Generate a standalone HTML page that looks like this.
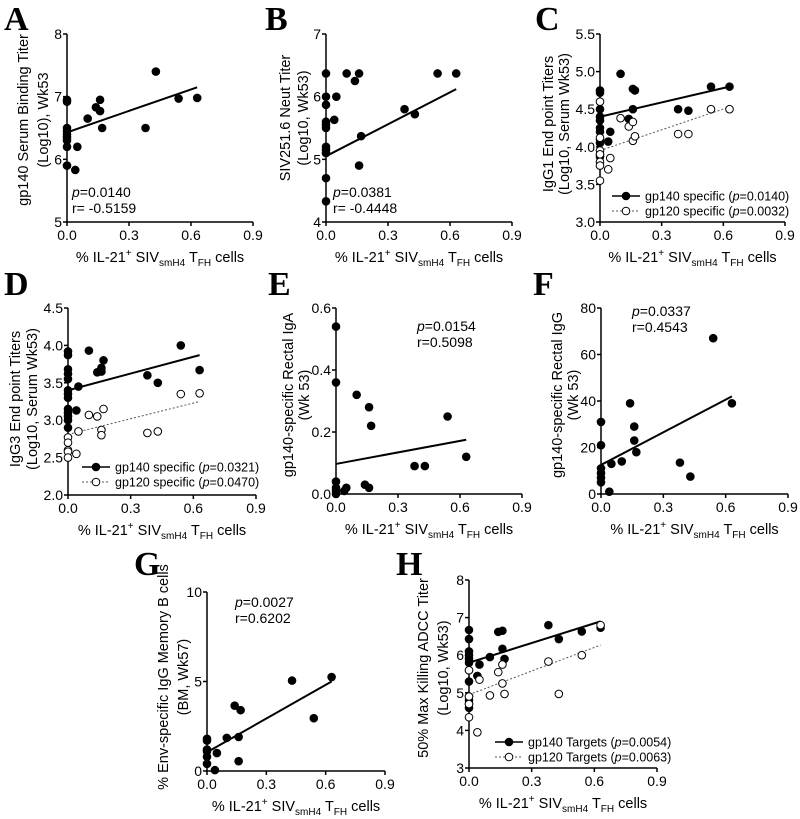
<!DOCTYPE html>
<html><head><meta charset="utf-8"><style>
html,body{margin:0;padding:0;background:#fff}
svg{display:block;font-family:"Liberation Sans",Arial,sans-serif}
</style></head><body>
<svg id="fig" width="800" height="819" viewBox="0 0 800 819" xmlns="http://www.w3.org/2000/svg"></svg>
<script>
// ---- data ----
const xTicks=[0,0.3,0.6,0.9];
const xTickLabels=["0.0","0.3","0.6","0.9"];
const aX=[0,0,0,0,0,0,0,0,0,0.04,0.05,0.1,0.14,0.16,0.16,0.17,0.38,0.43,0.54,0.63];
const aY=[6.95,6.92,6.5,6.45,6.4,6.35,6.3,6.2,5.9,5.83,6.2,6.65,6.83,6.95,6.77,6.5,6.5,7.4,6.97,6.98];
const aFit=[6.43,7.15];
const bX=[0,0,0,0,0,0,0,0,0,0,0,0.04,0.05,0.1,0.14,0.16,0.16,0.17,0.38,0.43,0.54,0.63];
const bY=[6.37,6.0,5.87,5.6,5.55,5.5,5.2,5.15,5.1,4.7,4.33,5.63,6.0,6.37,6.25,6.37,4.9,5.37,5.8,5.72,6.37,6.37];
const bFit=[5.05,6.12];
const cX1=[0,0,0,0,0,0,0,0,0,0,0,0.04,0.05,0.1,0.14,0.16,0.17,0.16,0.38,0.43,0.54,0.63];
const cY1=[4.75,4.72,4.5,4.4,4.35,4.25,4.2,4.1,4.05,3.9,3.87,4.07,4.2,4.97,4.37,4.77,4.75,4.5,4.5,4.48,4.8,4.8];
const cX2=[0,0,0,0,0,0,0,0.04,0.05,0.1,0.14,0.16,0.16,0.17,0.38,0.43,0.54,0.63];
const cY2=[4.6,4.12,3.95,3.9,3.8,3.75,3.55,3.7,3.85,4.38,4.27,4.33,4.08,4.14,4.17,4.17,4.5,4.5];
const cFit1=[4.4,4.8], cFit2=[3.95,4.53];
const dX1=[0,0,0,0,0,0,0,0,0,0,0,0,0,0.04,0.05,0.1,0.14,0.16,0.16,0.17,0.38,0.43,0.54,0.63];
const dY1=[3.92,3.87,3.68,3.62,3.55,3.4,3.35,3.3,3.15,3.1,3.05,3.0,2.9,3.13,3.45,3.93,3.64,3.7,3.65,3.8,3.6,3.5,4.0,3.67];
const dX2=[0,0,0,0,0,0.04,0.05,0.1,0.14,0.16,0.16,0.17,0.38,0.43,0.54,0.63];
const dY2=[2.77,2.7,2.6,2.58,2.5,2.55,2.85,3.07,3.05,2.87,2.8,3.15,2.83,2.85,3.35,3.36];
const dFit1=[3.4,3.87], dFit2=[2.81,3.25];
const eX=[0,0,0,0,0,0,0.04,0.05,0.1,0.14,0.16,0.16,0.17,0.38,0.43,0.54,0.63];
const eY=[0.54,0.36,0.04,0.02,0.01,0,0.01,0.02,0.32,0.03,0.28,0.02,0.22,0.09,0.09,0.25,0.12];
const eFit=[0.097,0.175];
const fX=[0,0,0,0,0,0,0.04,0.05,0.1,0.14,0.16,0.16,0.17,0.38,0.43,0.54,0.63];
const fY=[31,21,11,9,7,5,1,13,14,39,29,23,18,13.5,7.5,67,39];
const fFit=[12.5,42];
const gX=[0,0,0,0,0,0,0.04,0.05,0.1,0.14,0.16,0.16,0.17,0.43,0.54,0.63];
const gY=[1.8,1.7,1.2,1.1,0.8,0.4,0.05,1.0,1.85,3.65,1.9,0.55,3.4,5.05,2.95,5.25];
const gFit=[1.05,5.0];
const hX1=[0,0,0,0,0,0,0,0,0,0,0,0,0.04,0.05,0.1,0.14,0.16,0.16,0.17,0.38,0.43,0.54,0.63];
const hY1=[6.67,6.43,6.1,6.0,5.9,5.8,5.6,5.3,4.9,4.8,4.7,4.6,5.45,5.75,5.95,6.62,6.65,6.17,5.9,6.8,6.43,6.63,6.73];
const hX2=[0,0,0,0,0.04,0.05,0.1,0.14,0.16,0.16,0.17,0.38,0.43,0.54,0.63];
const hY2=[5.6,4.9,4.7,4.35,3.95,5.35,4.93,5.55,5.75,5.25,4.97,5.83,4.97,6.0,6.8];
const hFit1=[5.8,6.9], hFit2=[4.95,6.27];
const fitX=[0,0.63];

const NS="http://www.w3.org/2000/svg";
const svg=document.getElementById('fig');
function mk(tag,attrs,parent){const e=document.createElementNS(NS,tag);for(const k in attrs)e.setAttribute(k,attrs[k]);(parent||svg).appendChild(e);return e;}

function panel(c){
  const g=mk('g',{});
  
  
  const sx=v=>c.x0+(v-0)/(0.9-0)*(c.x1-c.x0);
  const sy=v=>c.y1-(v-c.ymin)/(c.ymax-c.ymin)*(c.y1-c.y0);
  const L=mk('text',{x:c.lx,y:c.ly,'font-family':'"Liberation Serif",serif','font-weight':'bold','font-size':34},g);L.textContent=c.id;
  
  
  const ax=mk('path',{d:`M${c.x0},${c.y0}V${c.y1}H${c.x1}`,stroke:'#000','stroke-width':1.5,fill:'none'},g);
  
  
  c.yt.forEach((v,i)=>{
    const y=sy(v);
    mk('line',{x1:c.x0-4,x2:c.x0,y1:y,y2:y,stroke:'#000','stroke-width':1.5},g);
    const t=mk('text',{x:c.x0-5,y:y+5,'text-anchor':'end','font-size':14},g);t.textContent=c.ytl[i];
    
    
  });
  xTicks.forEach((v,i)=>{
    const x=sx(v);
    mk('line',{x1:x,x2:x,y1:c.y1,y2:c.y1+4,stroke:'#000','stroke-width':1.5},g);
    const t=mk('text',{x:x,y:c.y1+18,'text-anchor':'middle','font-size':14},g);t.textContent=xTickLabels[i];
    
    
  });
  const xt=mk('text',{x:(c.x0+c.x1)/2,y:c.y1+40,'text-anchor':'middle','font-size':14.5},g);
  
  
  xt.innerHTML='% IL-21<tspan font-size="10" dy="-6">+</tspan><tspan dy="6"> SIV</tspan><tspan font-size="10" dy="4">smH4</tspan><tspan dy="-4"> T</tspan><tspan font-size="10" dy="4">FH</tspan><tspan dy="-4"> cells</tspan>';
  const yc=c.yc||((c.y0+c.y1)/2-6);
  c.ytitle.forEach((s,i)=>{
    const x=c.x0-c.yo[i];
    const t=mk('text',{x:x,y:yc,'text-anchor':'middle','font-size':14.5,transform:`rotate(-90 ${x} ${yc})`,dy:5},g);
    t.textContent=s;
    
    
  });
  c.series.forEach((s,si)=>{
    const fl=mk('line',{x1:sx(fitX[0]),y1:sy(s.fit[0]),x2:sx(fitX[1]),y2:sy(s.fit[1]),stroke:s.open?'#555':'#000','stroke-width':s.open?1:2,'stroke-dasharray':s.open?'2,2':'none'},g);
    
    
    s.x.forEach((xv,i)=>{
      const p=mk('circle',{cx:sx(xv),cy:sy(s.y[i]),r:3.8,fill:s.open?'#fff':'#000',stroke:'#000','stroke-width':1},g);
      
      
    });
  });
  if(c.stats){
    const t=mk('text',{x:c.stats[0],y:c.stats[1],'font-size':14},g);
    t.innerHTML='<tspan font-style="italic">p</tspan>='+c.stats[2];
    
    
    const r=mk('text',{x:c.stats[0],y:c.stats[1]+16,'font-size':14},g);r.textContent=c.stats[3];
    
    
  }
  if(c.legend){
    c.legend.items.forEach((it,i)=>{
      const y=c.legend.y+i*15, x=c.legend.x;
      const lg=mk('g',{},g);
      
      
      mk('line',{x1:x,x2:x+28,y1:y,y2:y,stroke:i?'#555':'#000','stroke-width':i?1:1.5,'stroke-dasharray':i?'2,2':'none'},lg);
      mk('circle',{cx:x+14,cy:y,r:3.8,fill:i?'#fff':'#000',stroke:'#000'},lg);
      const t=mk('text',{x:x+33,y:y+4.5,'font-size':12.5},lg);
      t.innerHTML=it[0]+' (<tspan font-style="italic">p</tspan>='+it[1]+')';
    });
  }
}

panel({id:'A',lx:4,ly:30,x0:67,x1:253,y0:34,y1:222,ymin:5,ymax:8,yt:[5,6,7,8],ytl:["5","6","7","8"],
  ytitle:["gp140 Serum Binding Titer","(Log10), Wk53"],yo:[44,24],yc:120,
  series:[{x:aX,y:aY,fit:aFit}],stats:[72,197,"0.0140","r= -0.5159"]});
panel({id:'B',lx:265,ly:30,x0:326,x1:512,y0:34,y1:222,ymin:4,ymax:7,yt:[4,5,6,7],ytl:["4","5","6","7"],
  ytitle:["SIV251.6 Neut Titer","(Log10, Wk53)"],yo:[41,23],yc:118,
  series:[{x:bX,y:bY,fit:bFit}],stats:[333,197,"0.0381","r= -0.4448"]});
panel({id:'C',lx:535,ly:30,x0:600,x1:785,y0:34,y1:222,ymin:3,ymax:5.5,yt:[3,3.5,4,4.5,5,5.5],ytl:["3.0","3.5","4.0","4.5","5.0","5.5"],
  ytitle:["IgG1 End point Titers","(Log10, Serum Wk53)"],yo:[52,36],yc:124,
  series:[{x:cX1,y:cY1,fit:cFit1},{x:cX2,y:cY2,fit:cFit2,open:true}],
  legend:{x:612,y:196,items:[["gp140 specific","0.0140"],["gp120 specific","0.0032"]]}});
panel({id:'D',lx:4,ly:295,x0:68,x1:256,y0:308,y1:495,ymin:2,ymax:4.5,yt:[2,2.5,3,3.5,4,4.5],ytl:["2.0","2.5","3.0","3.5","4.0","4.5"],
  ytitle:["IgG3 End point Titers","(Log10, Serum Wk53)"],yo:[53,36],yc:399,
  series:[{x:dX1,y:dY1,fit:dFit1},{x:dX2,y:dY2,fit:dFit2,open:true}],
  legend:{x:82,y:467,items:[["gp140 specific","0.0321"],["gp120 specific","0.0470"]]}});
panel({id:'E',lx:268,ly:295,x0:336,x1:522,y0:308,y1:494,ymin:0,ymax:0.6,yt:[0,0.2,0.4,0.6],ytl:["0.0","0.2","0.4","0.6"],
  ytitle:["gp140-specific Rectal IgA","(Wk 53)"],yo:[48,32],yc:395,
  series:[{x:eX,y:eY,fit:eFit}],stats:[417,331,"0.0154","r=0.5098"]});
panel({id:'F',lx:533,ly:295,x0:601,x1:788,y0:308,y1:494,ymin:0,ymax:80,yt:[0,20,40,60,80],ytl:["0","20","40","60","80"],
  ytitle:["gp140-specific Rectal IgG","(Wk 53)"],yo:[44,28],yc:395,
  series:[{x:fX,y:fY,fit:fFit}],stats:[632,316,"0.0337","r=0.4543"]});
panel({id:'G',lx:134,ly:575,x0:207,x1:385,y0:592,y1:771,ymin:0,ymax:10,yt:[0,5,10],ytl:["0","5","10"],
  ytitle:["% Env-specific IgG Memory B cells","(BM, Wk57)"],yo:[44,24],yc:677,
  series:[{x:gX,y:gY,fit:gFit}],stats:[235,607,"0.0027","r=0.6202"]});
panel({id:'H',lx:396,ly:575,x0:469,x1:657,y0:580,y1:768,ymin:3,ymax:8,yt:[3,4,5,6,7,8],ytl:["3","4","5","6","7","8"],
  ytitle:["50% Max Killing ADCC Titer","(Log10, Wk53)"],yo:[46,26],yc:668,
  series:[{x:hX1,y:hY1,fit:hFit1},{x:hX2,y:hY2,fit:hFit2,open:true}],
  legend:{x:495,y:742,items:[["gp140 Targets","0.0054"],["gp120 Targets","0.0063"]]}});
</script>
</body></html>
